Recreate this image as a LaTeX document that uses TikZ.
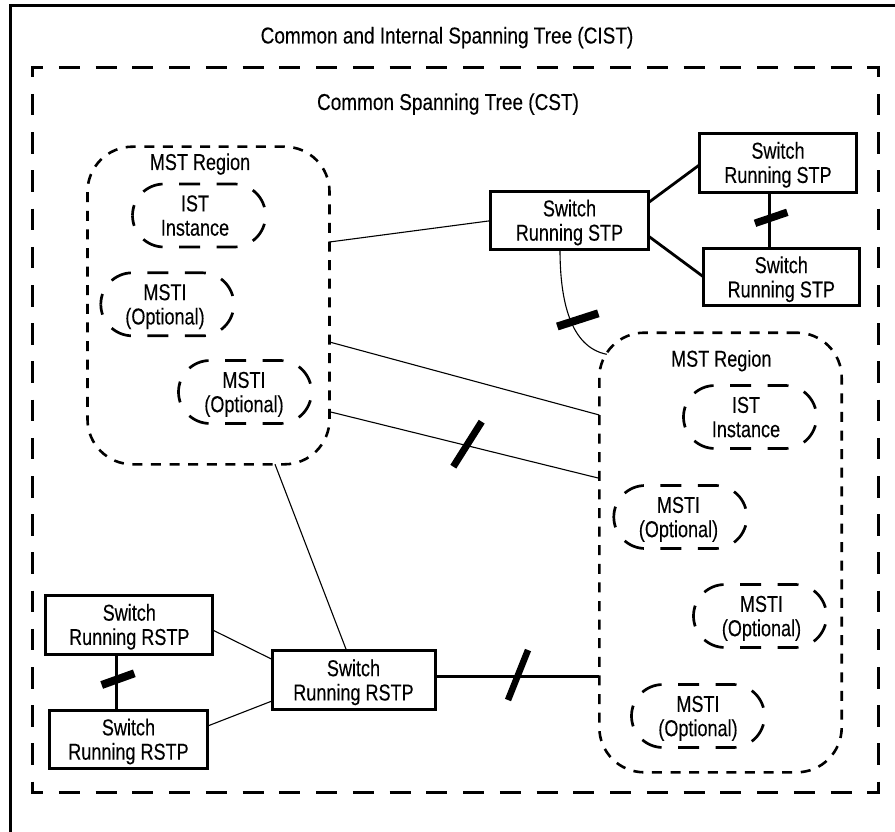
\documentclass[tikz,border=0pt]{standalone}
\usepackage{fontspec}
\setmainfont[FakeStretch=0.785,FakeBold=0.2]{Liberation Sans}
\newfontface\titleface[FakeStretch=0.825,FakeBold=0.2]{Liberation Sans}
\newcommand{\tl}[2]{\rule{0pt}{21pt}#1\\\rule[-5pt]{0pt}{0pt}#2}
\tikzset{
  txt/.style={font=\fontsize{23}{24.3}\selectfont,text=black,inner sep=0pt,outer sep=0pt,align=center},
  titletxt/.style={txt,font=\titleface\fontsize{23}{24.3}\selectfont,anchor=base},
  switchbox/.style={txt,draw=black,line width=3pt,minimum width=#1,minimum height=58pt},
  regionbox/.style={draw=black,line width=2.6pt,rounded corners=45pt,inner sep=0pt,outer sep=0pt,dash pattern=on 10pt off 8.6pt},
  ovalbox/.style={inner sep=0pt,outer sep=0pt,minimum width=133pt,minimum height=63pt},
  ovalline/.style={line width=2.7pt,dash pattern=on 21pt off 16.5pt,dash phase=10.5pt},
  frameline/.style={line width=3pt,dash pattern=on 21pt off 15.75pt},
  vframe/.style={line width=3pt,dash pattern=on 21.5pt off 16.7pt},
  thin link/.style={line width=1.1pt},
  thick link/.style={line width=2.8pt},
  slash/.style={line width=#1,line cap=butt},
}
\newcommand{\stad}[6]{%
  \node[ovalbox] (#1) at (#2,#3) {};
  \draw[ovalline] (#1.west) arc[start angle=180,end angle=90,radius=31.5pt] -- ++(70,0) arc[start angle=90,end angle=0,radius=31.5pt];
  \draw[ovalline] (#1.west) arc[start angle=180,end angle=270,radius=31.5pt] -- ++(70,0) arc[start angle=270,end angle=360,radius=31.5pt];
  \node[txt] (#1t) at (#4,#3) {\tl{#5}{#6}};
}
\begin{document}
\begin{tikzpicture}[x=1pt,y=-1pt]
\useasboundingbox (0,0) rectangle (895,832);
\fill[white] (0,0) rectangle (895,832);
% outer frame
\coordinate (cistTL) at (10.5,5.5);
\draw[line width=3pt] (10.5,832) -- (cistTL) -- (895,5.5);
% CST frame
\coordinate (nw) at (31,67.5);
\coordinate (ne) at (880,67.5);
\coordinate (sw) at (31,792);
\coordinate (se) at (880,792);
\draw[frameline,dash phase=9pt] (nw) -- (ne);
\draw[frameline,dash phase=9pt] (sw) -- (se);
\draw[vframe,dash phase=10.2pt] (32.5,66) -- (32.5,793.5);
\draw[vframe,dash phase=10.2pt] (878.5,66) -- (878.5,793.5);
% titles
\node[titletxt] (cist) at (447,43.5) {Common and Internal Spanning Tree (CIST)};
\node[titletxt] (cst) at (448,110) {Common Spanning Tree (CST)};
% regions
\node[regionbox,minimum width=242pt,minimum height=317.6pt] (regA) at (208.5,305.5) {};
\node[regionbox,minimum width=242.4pt,minimum height=439.6pt] (regB) at (720.5,552.5) {};
\node[txt,anchor=base] (regAt) at (200,170) {MST Region};
\node[txt,anchor=base] (regBt) at (721.3,366.7) {MST Region};
% ovals
\stad{istA}{199}{215.5}{195}{IST}{Instance}
\stad{mstiA}{167.3}{304.3}{165}{MSTI}{(Optional)}
\stad{mstiB}{245}{392}{244}{MSTI}{(Optional)}
\stad{istB}{750}{417}{746}{IST}{Instance}
\stad{mstiC}{680.3}{517}{678.5}{MSTI}{(Optional)}
\stad{mstiD}{760}{616}{761.5}{MSTI}{(Optional)}
\stad{mstiE}{698}{716}{698}{MSTI}{(Optional)}
% switches
\node[switchbox=157.6pt] (stpC) at (569.5,220.5) {\tl{Switch}{Running STP}};
\node[switchbox=157.4pt,minimum height=59pt] (stpT) at (778,162.8) {\tl{Switch}{Running STP}};
\node[switchbox=156pt,minimum height=57pt] (stpB) at (781.3,277.2) {\tl{Switch}{Running STP}};
\node[switchbox=166.7pt,minimum height=59pt] (rstpT) at (129.3,624.8) {\tl{Switch}{Running RSTP}};
\node[switchbox=158.4pt,minimum height=58.4pt] (rstpB) at (128.5,739.5) {\tl{Switch}{Running RSTP}};
\node[switchbox=163pt,minimum height=58.7pt] (rstpC) at (353.5,680.3) {\tl{Switch}{Running RSTP}};
% connectors
\draw[thin link] ([yshift=63.5pt]regA.east) -- ([yshift=-0.2pt]stpC.west);
\draw[thin link] ([yshift=-36.5pt]regA.east) -- ([yshift=137.5pt]regB.west);
\draw[thin link] ([yshift=-106.2pt]regA.east) -- ([yshift=74.2pt]regB.west);
\draw[thin link] ([xshift=66.5pt]regA.south) -- ([xshift=-6.8pt]rstpC.north);
\draw[thick link] ([yshift=17.8pt]stpC.east) -- ([yshift=-2.2pt]stpT.west);
\draw[thick link] ([yshift=-15.5pt]stpC.east) -- ([yshift=0.5pt]stpB.west);
\draw[line width=3pt] ([xshift=-8.7pt]stpT.south) -- ([xshift=-12pt]stpB.north);
\draw[thin link] ([xshift=-9.5pt]stpC.south) .. controls (560,300) and (570,347) .. (606.7,354.3);
\draw[thick link] (rstpC.east |- 0,676.7) -- (regB.west |- 0,676.7);
\draw[line width=3pt] ([xshift=-13pt]rstpT.south) -- ([xshift=-12.2pt]rstpB.north);
\draw[thin link] ([yshift=-5.2pt]rstpT.east) -- ([yshift=21pt]rstpC.west);
\draw[thin link] ([yshift=13.5pt]rstpB.east) -- ([yshift=-20.7pt]rstpC.west);
% slashes
\draw[slash=7.5pt] (755,223.3) -- (787.3,212.3);
\draw[slash=8pt] (557.3,326.5) -- (598.3,313.3);
\draw[slash=7pt] (453.3,466.7) -- (481.7,421.7);
\draw[slash=6.5pt] (508,700) -- (528,650);
\draw[slash=8pt] (101.7,685) -- (134.3,673.3);
\end{tikzpicture}
\end{document}
